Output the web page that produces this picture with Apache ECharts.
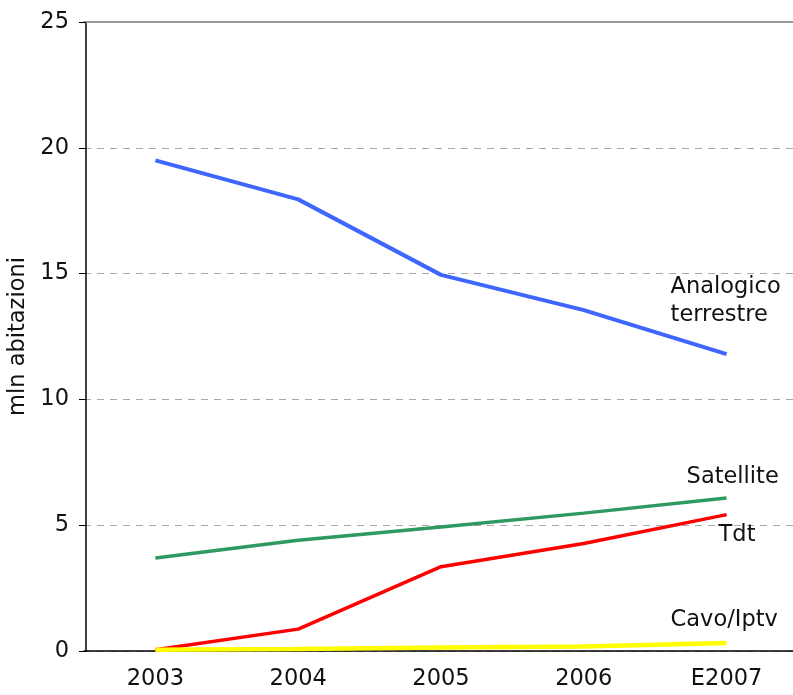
<!DOCTYPE html>
<html>
<head>
<meta charset="utf-8">
<style>
  html, body { margin: 0; padding: 0; background: #fff; }
  #chart { width: 793px; height: 695px; }
</style>
<script src="https://cdn.jsdelivr.net/npm/echarts@6/dist/echarts.min.js"></script>
</head>
<body>
<div id="chart"></div>
<script>
// Households by TV reception platform (millions)
var years = ['2003', '2004', '2005', '2006', 'E2007'];
var analogico = [19.5, 17.95, 14.95, 13.55, 11.8];
var satellite = [3.7, 4.4, 4.93, 5.48, 6.08];
var tdt = [0.05, 0.87, 3.35, 4.27, 5.42];
var cavo = [0.05, 0.08, 0.14, 0.18, 0.32];
var yTicks = [0, 5, 10, 15, 20, 25];

var FONT = 'DejaVu Sans';

// Put the series name next to its final point
function withEndLabel(values, text, dx, dy) {
  return values.map(function (v, i) {
    if (i !== values.length - 1) return v;
    return {
      value: v,
      label: {
        show: true,
        position: 'inside',
        formatter: text,
        align: 'left',
        verticalAlign: 'middle',
        offset: [dx, dy],
        fontFamily: FONT,
        fontSize: 22.5,
        lineHeight: 28,
        color: '#111'
      }
    };
  });
}

function lineSeries(name, values, color, width, label, dx, dy) {
  return {
    name: name,
    type: 'line',
    data: withEndLabel(values, label, dx, dy),
    showSymbol: true,
    symbol: 'circle',
    symbolSize: 0,
    lineStyle: { color: color, width: width },
    itemStyle: { color: color },
    label: { show: false },
    animation: false
  };
}

var chart = echarts.init(document.getElementById('chart'));
chart.setOption({
  backgroundColor: '#fff',
  grid: {
    left: 84, top: 22, width: 714, height: 629,
    containLabel: false,
    outerBoundsMode: 'none'
  },
  xAxis: [{
    type: 'category',
    data: years,
    boundaryGap: true,
    axisLine: { lineStyle: { color: '#000', width: 1.5 } },
    axisTick: { show: false },
    axisLabel: { color: '#111', fontFamily: FONT, fontSize: 22.5, margin: 17 },
    splitLine: { show: false }
  }, {
    type: 'category',
    data: years,
    position: 'top',
    boundaryGap: true,
    axisLine: { lineStyle: { color: '#999', width: 2 } },
    axisTick: { show: false },
    axisLabel: { show: false }
  }],
  yAxis: {
    type: 'value',
    min: yTicks[0],
    max: yTicks[yTicks.length - 1],
    interval: 5,
    offset: -2,
    name: 'mln abitazioni',
    nameLocation: 'middle',
    nameGap: 56,
    nameRotate: 90,
    nameTextStyle: { color: '#111', fontFamily: FONT, fontSize: 22.5 },
    axisLine: { show: true, lineStyle: { color: '#000', width: 1.5 } },
    axisTick: { show: true, length: 7, lineStyle: { color: '#000' } },
    axisLabel: { color: '#111', fontFamily: FONT, fontSize: 22.5, margin: 17 },
    splitLine: { show: true, lineStyle: { color: '#aaa', type: [7, 6], width: 1 } }
  },
  series: [
    lineSeries('Analogico terrestre', analogico, '#3f66ff', 4, 'Analogico\nterrestre', -56, -53),
    lineSeries('Satellite', satellite, '#2e9960', 3.5, 'Satellite', -40, -21),
    lineSeries('Tdt', tdt, '#ff0000', 3.5, 'Tdt', -8, 21),
    lineSeries('Cavo/Iptv', cavo, '#ffff00', 4.5, 'Cavo/Iptv', -56, -23)
  ]
});
</script>
</body>
</html>
